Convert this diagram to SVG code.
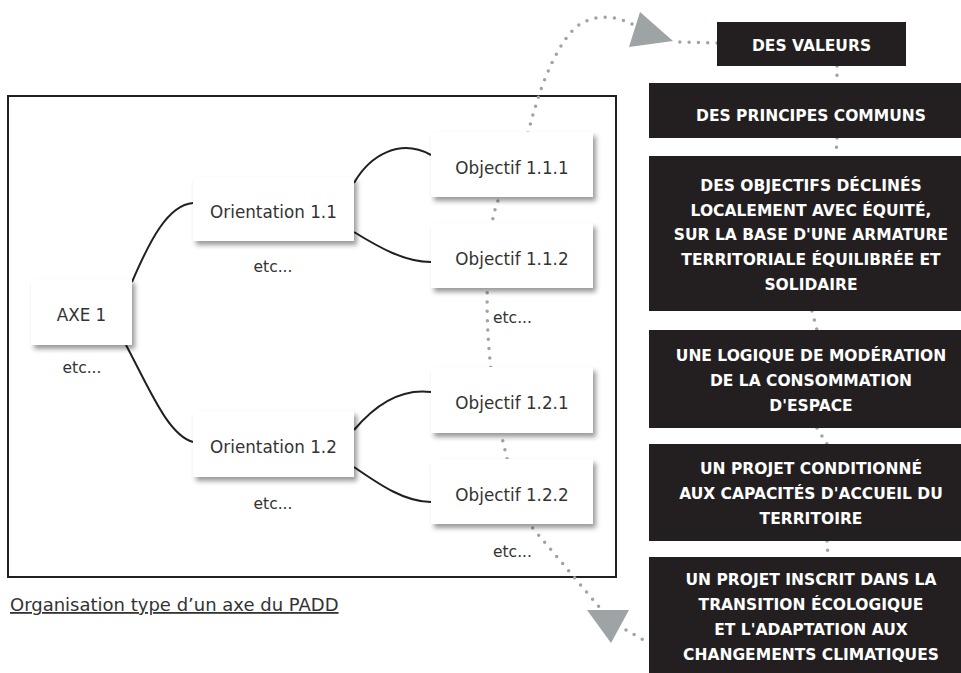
<svg xmlns="http://www.w3.org/2000/svg" width="961" height="673" viewBox="0 0 961 673">
<defs>
<filter id="sh" x="-20%" y="-20%" width="150%" height="160%">
<feDropShadow dx="3" dy="4" stdDeviation="2.5" flood-color="#000" flood-opacity="0.4"/>
</filter>
<style>
.node{fill:#fff;filter:url(#sh)}
.nt{font-family:"DejaVu Sans",sans-serif;font-size:16.8px;fill:#333;text-anchor:middle}
.etc{font-family:"DejaVu Sans",sans-serif;font-size:15.5px;fill:#333}
.blk{fill:#231f20}
.bt{font-family:"DejaVu Sans",sans-serif;font-weight:bold;font-size:15.5px;fill:#fff;text-anchor:middle}
.link{fill:none;stroke:#231f20;stroke-width:2}
.dot{fill:none;stroke:#9ea3a5;stroke-width:3.5;stroke-linecap:round;stroke-dasharray:0 9.3}
.head{fill:#9ea3a5}
</style>
</defs>
<rect width="961" height="673" fill="#fff"/>

<rect id="frame" x="8" y="96" width="608" height="481" fill="none" stroke="#231f20" stroke-width="2"/>

<g id="dotted">
<path class="dot" d="M717,43 L676,42"/>
<path class="dot" d="M632,24 C612,14 590,15 575,28 C560,42 548,70 540,92 C535,108 531,120 529,130 C515,170 495,195 492,225 C487,265 485,310 490,360 C494,400 500,430 505,450 C512,480 520,510 531,526 L600,608"/>
<path class="dot" d="M626,630 L649,643"/>
<path class="dot" d="M837,66 L837,83 M837,138 L836,156 M812,311 L817,330 M817,428 L827,444 M827,541 L828,557"/>
<polygon class="head" points="640,12 629,47 673,41"/>
<polygon class="head" points="587,610 629,610 611,643"/>
</g>

<g id="connectors">
<path class="link" d="M132,282 C150,240 168,205 193,203"/>
<path class="link" d="M126,345 C150,390 168,435 193,442"/>
<path class="link" d="M354,183 C370,155 400,138 431,155"/>
<path class="link" d="M354,232 C380,248 405,262 431,262"/>
<path class="link" d="M354,430 C375,405 400,388 431,392"/>
<path class="link" d="M354,467 C380,485 405,502 431,502"/>
</g>

<g id="axe1">
<rect class="node" x="31" y="279" width="101" height="66"/>
<text class="nt" x="81.5" y="321">AXE 1</text>
<text class="etc" x="82" y="373" text-anchor="middle">etc...</text>
</g>
<g id="orientation11">
<rect class="node" x="193" y="177" width="161" height="64"/>
<text class="nt" x="273.5" y="218">Orientation 1.1</text>
<text class="etc" x="273" y="272" text-anchor="middle">etc...</text>
</g>
<g id="orientation12">
<rect class="node" x="193" y="411" width="161" height="66"/>
<text class="nt" x="273.5" y="453">Orientation 1.2</text>
<text class="etc" x="273" y="509" text-anchor="middle">etc...</text>
</g>
<g id="objectif111">
<rect class="node" x="431" y="132" width="162" height="65"/>
<text class="nt" x="512" y="173.5">Objectif 1.1.1</text>
</g>
<g id="objectif112">
<rect class="node" x="431" y="223" width="162" height="65"/>
<text class="nt" x="512" y="264.5">Objectif 1.1.2</text>
</g>
<text class="etc" x="493" y="323">etc...</text>
<g id="objectif121">
<rect class="node" x="431" y="367" width="162" height="66"/>
<text class="nt" x="512" y="409">Objectif 1.2.1</text>
</g>
<g id="objectif122">
<rect class="node" x="431" y="459" width="162" height="65"/>
<text class="nt" x="512" y="500.5">Objectif 1.2.2</text>
</g>
<text class="etc" x="493" y="557">etc...</text>

<text id="caption" x="10" y="611" font-family="DejaVu Sans, sans-serif" font-size="18" fill="#333" text-decoration="underline">Organisation type d’un axe du PADD</text>

<g id="valeurs">
<rect class="blk" x="717" y="22" width="189" height="44"/>
<text class="bt" x="811.5" y="51">DES VALEURS</text>
</g>
<g id="principes">
<rect class="blk" x="649" y="83" width="330" height="55"/>
<text class="bt" x="811" y="121">DES PRINCIPES COMMUNS</text>
</g>
<g id="objectifs">
<rect class="blk" x="649" y="156" width="330" height="155"/>
<text class="bt" x="811" y="191">DES OBJECTIFS DÉCLINÉS</text>
<text class="bt" x="811" y="216">LOCALEMENT AVEC ÉQUITÉ,</text>
<text class="bt" x="811" y="240">SUR LA BASE D'UNE ARMATURE</text>
<text class="bt" x="811" y="265">TERRITORIALE ÉQUILIBRÉE ET</text>
<text class="bt" x="811" y="290">SOLIDAIRE</text>
</g>
<g id="moderation">
<rect class="blk" x="649" y="330" width="330" height="98"/>
<text class="bt" x="811" y="361">UNE LOGIQUE DE MODÉRATION</text>
<text class="bt" x="811" y="386">DE LA CONSOMMATION</text>
<text class="bt" x="811" y="411">D'ESPACE</text>
</g>
<g id="conditionne">
<rect class="blk" x="649" y="444" width="330" height="97"/>
<text class="bt" x="811" y="474">UN PROJET CONDITIONNÉ</text>
<text class="bt" x="811" y="499">AUX CAPACITÉS D'ACCUEIL DU</text>
<text class="bt" x="811" y="524">TERRITOIRE</text>
</g>
<g id="transition">
<rect class="blk" x="649" y="557" width="330" height="130"/>
<text class="bt" x="811" y="585">UN PROJET INSCRIT DANS LA</text>
<text class="bt" x="811" y="610">TRANSITION ÉCOLOGIQUE</text>
<text class="bt" x="811" y="635">ET L'ADAPTATION AUX</text>
<text class="bt" x="811" y="660">CHANGEMENTS CLIMATIQUES</text>
</g>
</svg>
